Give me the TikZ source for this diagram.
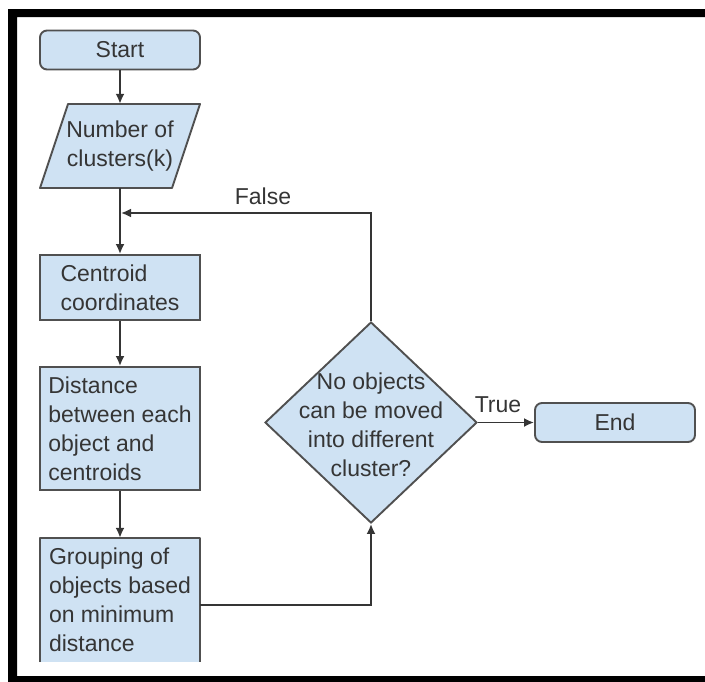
\documentclass[tikz,border=0pt]{standalone}
\usepackage{fontspec}
\setmainfont{Liberation Sans}
\usetikzlibrary{arrows.meta,shapes.geometric}
\definecolor{boxfill}{HTML}{CFE2F3}
\definecolor{boxline}{HTML}{505050}
\definecolor{ink}{HTML}{353535}

\begin{document}
\begin{tikzpicture}[x=1pt,y=-1pt,
  font=\fontsize{23}{29}\selectfont, text=ink,
  box/.style={draw=boxline, fill=boxfill, line width=1.9pt,
    minimum width=160pt, inner sep=0pt, align=left},
  term/.style={box, rounded corners=7pt, minimum height=39pt, align=center},
  flow/.style={draw=ink, line width=1.9pt, -{Latex[length=10pt,width=9pt]}},
  lbl/.style={inner sep=0pt}]

\useasboundingbox (0,0) rectangle (705,681);
\clip (0,0) rectangle (705,681);

% black frame around the chart
\fill[black, even odd rule] (8,9) rectangle (740,720) (17,17) rectangle (730,676);

% start terminal
\node[term] (start) at (120,50) {Start};

% input parallelogram
\filldraw[draw=boxline, fill=boxfill, line width=1.9pt, line join=round]
  (68,104) -- (200,104) -- (172,188) -- (40,188) -- cycle;
\node[minimum width=160pt, minimum height=84pt, inner sep=0pt, align=center]
  (num) at (120,146) {Number of\\clusters(k)};

% process boxes
\node[box, minimum height=65pt] (cent) at (120,287.5) {Centroid\\coordinates};
\node[box, minimum height=123pt] (dist) at (120,428.5)
  {Distance\\between each\\object and\\centroids};
\node[fill=boxfill, minimum width=160pt, minimum height=124pt, inner sep=0pt,
  align=left] (grp) at (120,600)
  {Grouping of\\objects based\\on minimum\\distance};
\draw[draw=boxline, line width=1.9pt, line join=round]
  (grp.south west) -- (grp.north west) -- (grp.north east) -- (grp.south east);

% decision
\node[diamond, draw=boxline, fill=boxfill, line width=1.9pt, inner sep=0pt,
  minimum width=212pt, minimum height=201pt] (dec) at (371,422.5) {};
\node[align=center, inner sep=0pt] (dectext) at (371,425)
  {No objects\\can be moved\\into different\\cluster?};

% end terminal
\node[term] (end) at (615,422.5) {End};

% connectors
\draw[flow] (start.south) -- (num.north);
\draw[flow] (num.south) -- (cent.north);
\draw[flow] (cent.south) -- (dist.north);
\draw[flow] (dist.south) -- (grp.north);
\draw[flow] ([yshift=-5pt]grp.east) -| (dec.south);
\coordinate (loopin) at (120,213);
\draw[flow] (dec.north) |- ([xshift=1pt]loopin);
\node[lbl] (flbl) at (263,196) {False};
\draw[flow] (dec.east) -- (end.west);
\node[lbl, anchor=base] (tlbl) at (498,412) {True};
\end{tikzpicture}
\end{document}
